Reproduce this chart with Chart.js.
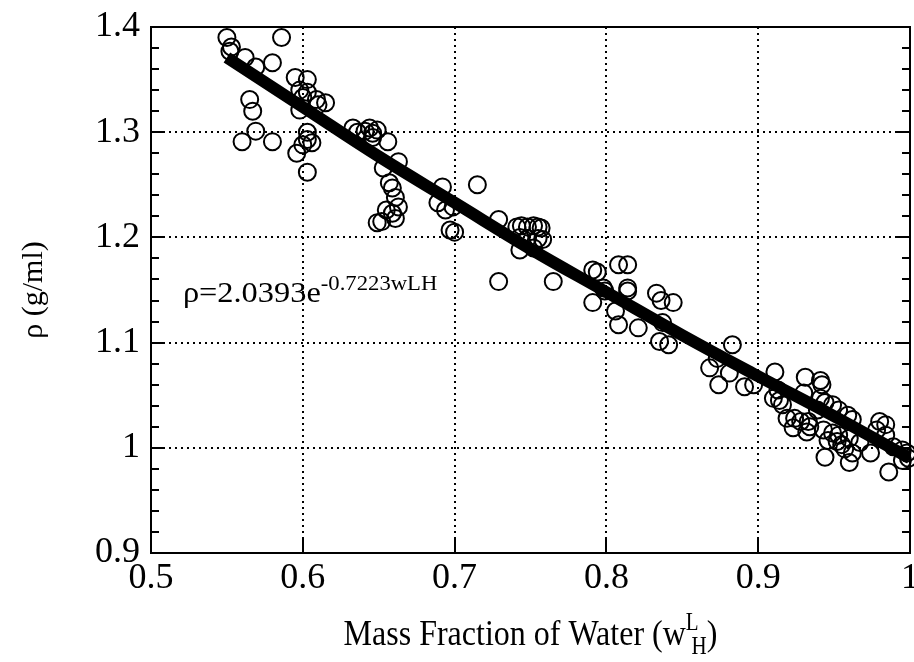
<!DOCTYPE html>
<html>
<head>
<meta charset="utf-8">
<style>
  html, body { margin: 0; padding: 0; background: #fff; }
  #wrap { width: 914px; height: 662px; position: relative; }
</style>
<script src="https://cdn.jsdelivr.net/npm/chart.js@4.4.1/dist/chart.umd.min.js"></script>
</head>
<body>
<div id="wrap"><canvas id="c" width="914" height="662"></canvas></div>
<script>
// measured points: mass fraction of water vs density
const waterX = [
  0.550, 0.553, 0.552, 0.562, 0.569, 0.586, 0.580, 0.595, 0.603, 0.598,
  0.603, 0.600, 0.609, 0.615, 0.610, 0.598, 0.565, 0.567, 0.569, 0.560,
  0.580, 0.603, 0.603, 0.606, 0.600, 0.596, 0.603,
  0.633, 0.636, 0.641, 0.644, 0.646, 0.649, 0.646, 0.656, 0.663, 0.653,
  0.657, 0.659, 0.661, 0.663, 0.655, 0.659, 0.661, 0.649, 0.652,
  0.692, 0.689, 0.694, 0.699, 0.697, 0.700, 0.715, 0.729,
  0.741, 0.744, 0.748, 0.752, 0.755, 0.757, 0.743, 0.748, 0.755, 0.758,
  0.743, 0.752, 0.729, 0.765,
  0.791, 0.794, 0.808, 0.814, 0.798, 0.799, 0.814, 0.814, 0.791, 0.806,
  0.808, 0.821, 0.833, 0.836, 0.844, 0.837, 0.835, 0.841,
  0.868, 0.874, 0.873, 0.881, 0.883, 0.891, 0.897, 0.911, 0.910, 0.914,
  0.913, 0.919, 0.916,
  0.931, 0.941, 0.942, 0.930, 0.941, 0.944, 0.949, 0.959, 0.924, 0.928,
  0.933, 0.923, 0.932, 0.934, 0.943, 0.949, 0.953, 0.946, 0.952, 0.955,
  0.960, 0.967, 0.944, 0.960, 0.974, 0.980, 0.984, 0.978, 0.984, 0.989,
  0.995, 0.998, 0.995, 0.999, 0.986, 0.962, 0.957, 0.939, 0.953, 0.962
];
const densityY = [
  1.390, 1.381, 1.377, 1.371, 1.362, 1.390, 1.366, 1.352, 1.350, 1.340,
  1.338, 1.333, 1.331, 1.328, 1.326, 1.321, 1.331, 1.320, 1.301, 1.291,
  1.291, 1.300, 1.293, 1.290, 1.288, 1.280, 1.262,
  1.304, 1.300, 1.301, 1.304, 1.299, 1.302, 1.295, 1.291, 1.272, 1.266,
  1.252, 1.247, 1.238, 1.229, 1.226, 1.223, 1.218, 1.214, 1.215,
  1.248, 1.233, 1.226, 1.229, 1.207, 1.205, 1.250, 1.217,
  1.210, 1.211, 1.210, 1.211, 1.210, 1.209, 1.200, 1.199, 1.199, 1.198,
  1.188, 1.190, 1.158, 1.158,
  1.169, 1.167, 1.174, 1.174, 1.152, 1.149, 1.152, 1.149, 1.138, 1.130,
  1.117, 1.114, 1.147, 1.140, 1.138, 1.119, 1.101, 1.098,
  1.076, 1.060, 1.085, 1.071, 1.098, 1.058, 1.060, 1.072, 1.047, 1.045,
  1.055, 1.028, 1.041,
  1.067, 1.064, 1.060, 1.052, 1.047, 1.043, 1.041, 1.031, 1.028, 1.025,
  1.025, 1.019, 1.015, 1.020, 1.017, 1.014, 1.012, 1.007, 1.006, 1.003,
  1.009, 1.005, 0.991, 0.986, 0.995, 1.025, 1.022, 1.017, 1.012, 1.001,
  0.998, 0.995, 0.988, 0.990, 0.977, 0.995, 0.999, 1.036, 1.036, 1.027
];

// fitted curve
const fitX = [0.55, 0.60, 0.65, 0.70, 0.75, 0.80, 0.85, 0.90, 0.95, 1.00];
const fitY = [1.371, 1.324, 1.277, 1.233, 1.189, 1.148, 1.107, 1.068, 1.030, 0.990];

const xTickLabels = ['0.5', '0.6', '0.7', '0.8', '0.9', '1'];
const yTickLabels = ['0.9', '1', '1.1', '1.2', '1.3', '1.4'];

const serif = '"Liberation Serif", "Times New Roman", serif';

const frame = {
  id: 'frame',
  afterDatasetsDraw(chart) {
    const { ctx, chartArea: a, scales: { x, y } } = chart;
    ctx.save();
    ctx.strokeStyle = '#000';
    ctx.lineWidth = 2;
    ctx.strokeRect(a.left, a.top, a.right - a.left, a.bottom - a.top);
    ctx.beginPath();
    for (let i = 0; i <= 25; i++) {
      const py = Math.round(y.getPixelForValue(0.9 + i * 0.02));
      const len = i % 5 === 0 ? 14 : 8;
      ctx.moveTo(a.left, py); ctx.lineTo(a.left + len, py);
      ctx.moveTo(a.right, py); ctx.lineTo(a.right - len, py);
    }
    for (let i = 0; i <= 5; i++) {
      const px = Math.round(x.getPixelForValue(0.5 + i * 0.1));
      ctx.moveTo(px, a.bottom); ctx.lineTo(px, a.bottom - 14);
    }
    ctx.stroke();

    // equation of the fit
    const ex = x.getPixelForValue(0.521);
    const ey = y.getPixelForValue(1.1386);
    ctx.fillStyle = '#000';
    ctx.textBaseline = 'alphabetic';
    ctx.textAlign = 'left';
    ctx.translate(ex, ey);
    ctx.scale(1.08, 1);
    ctx.font = '30px ' + serif;
    const base = 'ρ=2.0393e';
    ctx.fillText(base, 0, 0);
    const bw = ctx.measureText(base).width;
    ctx.font = '21px ' + serif;
    ctx.fillText('-0.7223wLH', bw, -12);
    ctx.restore();
  },
  afterDraw(chart) {
    const { ctx, chartArea: a } = chart;
    ctx.save();
    ctx.fillStyle = '#000';
    ctx.textBaseline = 'alphabetic';
    ctx.textAlign = 'left';
    const main = 'Mass Fraction of Water (w';
    ctx.font = '32px ' + serif;
    const mw = ctx.measureText(main).width;
    const cw = ctx.measureText(')').width;
    ctx.font = '21px ' + serif;
    const lw = ctx.measureText('L').width;
    const hw = ctx.measureText('H').width;
    const total = mw + lw * 0.45 + hw + cw;
    const cx = (a.left + a.right) / 2;
    ctx.translate(cx - total / 2, 645);
    ctx.scale(1, 1.15);
    ctx.font = '32px ' + serif;
    ctx.fillText(main, 0, 0);
    ctx.font = '21px ' + serif;
    ctx.fillText('L', mw, -13);
    ctx.fillText('H', mw + lw * 0.45, 8);
    ctx.font = '32px ' + serif;
    ctx.fillText(')', mw + lw * 0.45 + hw, 0);
    ctx.restore();
  }
};

new Chart(document.getElementById('c'), {
  type: 'scatter',
  data: {
    datasets: [
      {
        type: 'line',
        data: fitX.map((v, i) => ({ x: v, y: fitY[i] })),
        borderColor: '#000',
        borderWidth: 12,
        pointRadius: 0,
        tension: 0.4,
        fill: false,
        order: 0
      },
      {
        data: waterX.map((v, i) => ({ x: v, y: densityY[i] })),
        pointStyle: 'circle',
        pointRadius: 8.5,
        pointBorderWidth: 2,
        pointBorderColor: '#000',
        pointBackgroundColor: 'rgba(0,0,0,0)',
        clip: false,
        order: 1
      }
    ]
  },
  options: {
    responsive: false,
    animation: false,
    layout: { autoPadding: false, padding: { top: 27, right: 4, left: 0, bottom: 0 } },
    plugins: { legend: { display: false }, tooltip: { enabled: false } },
    scales: {
      x: {
        type: 'linear',
        min: 0.5, max: 1,
        ticks: {
          stepSize: 0.1,
          color: '#000',
          padding: 4,
          maxRotation: 0,
          font: { family: serif, size: 36 },
          callback: (v, i) => xTickLabels[i]
        },
        grid: { color: '#000', lineWidth: 2, drawTicks: false },
        border: { display: false, dash: [2, 4] },
        afterFit: s => { s.height = 109; s.paddingRight = 0; s.paddingLeft = 0; }
      },
      y: {
        type: 'linear',
        min: 0.9, max: 1.4,
        ticks: {
          stepSize: 0.1,
          color: '#000',
          padding: 11,
          font: { family: serif, size: 36 },
          callback: (v, i) => yTickLabels[i]
        },
        grid: { color: '#000', lineWidth: 2, drawTicks: false },
        border: { display: false, dash: [2, 4] },
        title: {
          display: true,
          text: 'ρ (g/ml)',
          color: '#000',
          font: { family: serif, size: 30 },
          padding: { top: 16, bottom: 0 }
        },
        afterFit: s => { s.width = 151; s.paddingTop = 0; s.paddingBottom = 0; }
      }
    }
  },
  plugins: [frame]
});
</script>
</body>
</html>
